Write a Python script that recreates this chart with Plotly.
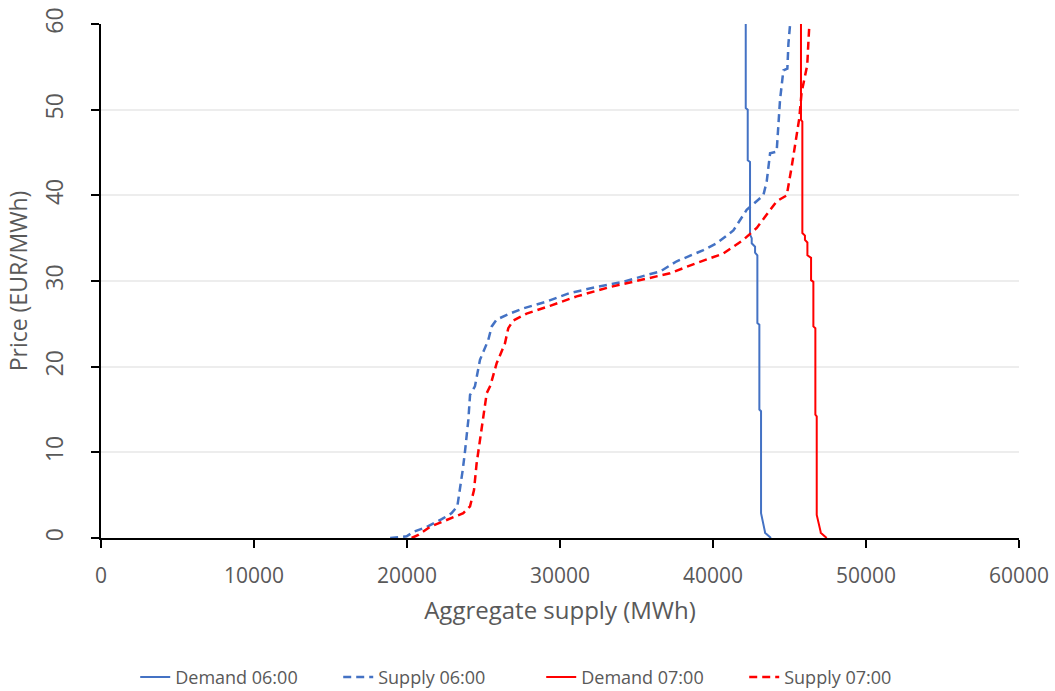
import plotly.graph_objects as go

# Demand 06:00 (step curve)
d6_x = [42140, 42140, 42270, 42270, 42420, 42420, 42530, 42530, 42750, 42750, 42900, 42900, 43030, 43030, 43140, 43140, 43400, 43400, 43790]
d6_y = [60, 50.2, 50.0, 44.1, 43.9, 35.4, 35.0, 34.4, 34.0, 33.3, 33.0, 25.1, 24.9, 15.0, 14.8, 2.9, 0.7, 0.6, 0]

# Supply 06:00
s6_x = [18900, 19980, 20410, 21290, 22270, 22920, 23290, 23460, 23640, 23790, 24010, 24120, 24440, 24770, 25310, 25540, 25860,
        26730, 27600, 29130, 30650, 32400, 34140, 35670, 36540, 37630, 39370, 40240, 41330, 42200, 43290, 43510, 43730,
        44160, 44380, 44600, 44860, 44930, 45040]
s6_y = [0, 0.2, 0.7, 1.3, 2.2, 2.9, 3.7, 5.6, 7.9, 10.1, 13.8, 16.7, 17.7, 20.8, 23.1, 24.7, 25.5,
        26.2, 26.8, 27.6, 28.6, 29.3, 29.9, 30.7, 31.1, 32.3, 33.6, 34.4, 35.9, 38.3, 40.0, 41.6, 44.9,
        45.1, 51.1, 54.6, 54.8, 57.7, 60]

# Demand 07:00 (step curve)
d7_x = [45750, 45750, 45840, 45840, 46010, 46010, 46170, 46170, 46410, 46410, 46560, 46560, 46690, 46690, 46780, 46780, 47040, 47040, 47430]
d7_y = [60, 48.8, 48.6, 35.6, 35.3, 34.8, 34.5, 33.0, 32.7, 30.1, 29.9, 24.7, 24.5, 14.4, 14.2, 2.7, 0.7, 0.6, 0]

# Supply 07:00
s7_x = [20300, 20740, 21500, 22600, 23680, 24120, 24380, 24550, 24730, 24990, 25210, 25450, 25860, 26400, 26620, 26950,
        27820, 29350, 31090, 33270, 35230, 37190, 38930, 40670, 41980, 42860, 44160, 44820, 45140, 45470, 45640,
        45790, 46120, 46160, 46230, 46300]
s7_y = [0, 0.35, 1.3, 2.1, 2.9, 3.7, 5.6, 8.7, 11.0, 14.6, 16.9, 17.8, 20.4, 22.7, 24.5, 25.4,
        26.2, 27.1, 28.2, 29.3, 30.1, 30.9, 32.1, 33.2, 34.8, 36.2, 39.3, 40.0, 43.3, 47.2, 49.0,
        52.0, 54.8, 55.2, 57.7, 60]

x_ticks = [0, 10000, 20000, 30000, 40000, 50000, 60000]
y_ticks = [0, 10, 20, 30, 40, 50, 60]

BLUE = "#4472C4"
RED = "#FF0000"
FONT = "Open Sans, sans-serif"
TXT = "#595959"

fig = go.Figure()
fig.add_trace(go.Scatter(x=d6_x, y=d6_y, mode="lines", name="Demand 06:00",
                         line=dict(color=BLUE, width=2)))
fig.add_trace(go.Scatter(x=s6_x, y=s6_y, mode="lines", name="Supply 06:00",
                         line=dict(color=BLUE, width=2.5, dash="8px,5px")))
fig.add_trace(go.Scatter(x=d7_x, y=d7_y, mode="lines", name="Demand 07:00",
                         line=dict(color=RED, width=2)))
fig.add_trace(go.Scatter(x=s7_x, y=s7_y, mode="lines", name="Supply 07:00",
                         line=dict(color=RED, width=2.5, dash="8px,5px")))

fig.update_layout(
    width=1055, height=691,
    margin=dict(l=101, r=36, t=24, b=153),
    paper_bgcolor="white", plot_bgcolor="white",
    font=dict(family=FONT, color=TXT, size=20),
    showlegend=True,
    legend=dict(orientation="h", xref="container", yref="container",
                x=0.513, xanchor="center", y=0.02, yanchor="middle",
                font=dict(size=18, color=TXT), entrywidth=158, entrywidthmode="pixels"),
)
fig.update_xaxes(
    range=[0, 60000], tickvals=x_ticks, ticktext=[str(v) for v in x_ticks],
    showgrid=False, zeroline=False, automargin=False,
    showline=True, linecolor="black", linewidth=1.5,
    ticks="outside", ticklen=8, tickcolor="black", tickwidth=1.5,
    ticklabelstandoff=10,
    tickfont=dict(size=21, color=TXT),
    title=dict(text="Aggregate supply (MWh)", font=dict(size=24, color=TXT), standoff=14),
)
fig.update_yaxes(
    range=[0, 60], tickvals=y_ticks, ticktext=[str(v) for v in y_ticks],
    showgrid=True, gridcolor="#EDEDED", gridwidth=1.5, zeroline=False, automargin=False,
    showline=True, linecolor="black", linewidth=1.5,
    ticks="outside", ticklen=8, tickcolor="black", tickwidth=1.5,
    ticklabelstandoff=19, tickangle=-90,
    tickfont=dict(size=23, color=TXT),
    title=dict(text="Price (EUR/MWh)", font=dict(size=23, color=TXT), standoff=4),
)

fig.write_html("out.html")
